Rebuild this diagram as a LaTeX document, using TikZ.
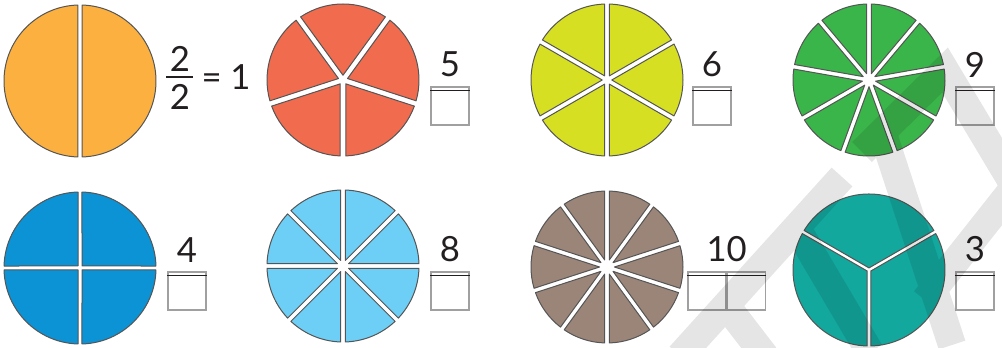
\documentclass[tikz,border=0pt]{standalone}
\usepackage{fontspec}
\setmainfont{Lato}
\usetikzlibrary{positioning}

\definecolor{edgegray}{HTML}{555555}
\definecolor{boxgray}{HTML}{A0A0A0}
\definecolor{inkdark}{HTML}{231F20}
\definecolor{pieorange}{HTML}{FBB040}
\definecolor{piered}{HTML}{F16B4F}
\definecolor{pieyellow}{HTML}{D7DF23}
\definecolor{piegreen}{HTML}{3AB54A}
\definecolor{pieblue}{HTML}{0B93D5}
\definecolor{pielight}{HTML}{6DCFF6}
\definecolor{piebrown}{HTML}{9B8579}
\definecolor{pieteal}{HTML}{13A89E}

\tikzset{every picture/.style={line width=0.75pt}}
\tikzset{
  sector/.style={draw=edgegray, line width=0.75pt, line join=round},
  blank/.style={draw=boxgray, line width=1.1pt, minimum size=28.5pt, inner sep=0pt},
  fracbar/.style={draw=inkdark, line width=1.1pt},
  numtext/.style={inner sep=0pt, text=inkdark, font=\fontsize{26}{30}\selectfont},
  stripe/.style={line width=21pt, line cap=butt, line join=miter},
}

\newcommand{\rad}{76}
% centre, parts, first cut, colour, half gap
\newcommand{\fracpie}[5]{%
  \begin{scope}[shift={#1}, yscale=-1]
    \pgfmathsetmacro{\angH}{180/#2}
    \pgfmathsetmacro{\tipd}{#5/sin(\angH)}
    \pgfmathsetmacro{\angD}{asin(#5/\rad)}
    \foreach \k in {1,...,#2}{
      \pgfmathsetmacro{\angA}{#3+(\k-1)*360/#2}
      \pgfmathsetmacro{\angB}{\angA+360/#2}
      \draw[sector, fill=#4] (\angA+\angH:\tipd) -- (\angA+\angD:\rad)
        arc[start angle=\angA+\angD, end angle=\angB-\angD, radius=\rad] -- cycle;
    }
  \end{scope}}

\begin{document}
\begin{tikzpicture}[x=0.75pt,y=0.75pt,yscale=-1,xscale=1]
  \useasboundingbox (0,0) rectangle (1002,348);

  % pies
  \fracpie{(80,81)}{2}{90}{pieorange}{2.2}
  \fracpie{(343,80)}{5}{270}{piered}{2.8}
  \fracpie{(607,80)}{6}{90}{pieyellow}{2.4}
  \fracpie{(869,80)}{9}{90}{piegreen}{2.3}
  \fracpie{(80,268)}{4}{0}{pieblue}{2.0}
  \fracpie{(343,266)}{8}{0}{pielight}{2.3}
  \fracpie{(607,267)}{10}{90}{piebrown}{2.3}
  \fracpie{(869,270)}{3}{270}{pieteal}{1.8}

  % 2/2 = 1
  \node[numtext, anchor=base] (num2) at (180,72) {2};
  \coordinate (bar2l) at (166,77);
  \coordinate (bar2r) at (193,77);
  \draw[fracbar] (bar2l) -- (bar2r);
  \node[numtext, anchor=base] (den2) at (180,110) {2};
  \node[numtext, anchor=west] (eqone) at (201,77) {= 1};

  % top row
  \node[blank] (box5) at (450,106) {};
  \draw[fracbar] ([yshift=3pt]box5.north west) -- ([yshift=3pt]box5.north east);
  \node[numtext, above=6.5pt of box5] (num5) {5};

  \node[blank] (box6) at (712,106) {};
  \draw[fracbar] ([yshift=3pt]box6.north west) -- ([yshift=3pt]box6.north east);
  \node[numtext, above=6.5pt of box6] (num6) {6};

  \node[blank] (box9) at (975,106) {};
  \draw[fracbar] ([yshift=3pt]box9.north west) -- ([yshift=3pt]box9.north east);
  \node[numtext, above=6.5pt of box9] (num9) {9};

  % bottom row
  \node[blank] (box4) at (187,291) {};
  \draw[fracbar] ([yshift=3pt]box4.north west) -- ([yshift=3pt]box4.north east);
  \node[numtext, above=6.5pt of box4] (num4) {4};

  \node[blank] (box8) at (450,291) {};
  \draw[fracbar] ([yshift=3pt]box8.north west) -- ([yshift=3pt]box8.north east);
  \node[numtext, above=6.5pt of box8] (num8) {8};

  \node[blank] (box10a) at (707,291) {};
  \node[blank, right=0pt of box10a] (box10b) {};
  \draw[fracbar] ([yshift=3pt]box10a.north west) -- ([yshift=3pt]box10b.north east);
  \node[numtext, above=6.5pt of box10a.north east] (num10) {10};

  \node[blank] (box3) at (975,291) {};
  \draw[fracbar] ([yshift=3pt]box3.north west) -- ([yshift=3pt]box3.north east);
  \node[numtext, above=6.5pt of box3] (num3) {3};

  % faint watermark stripes
  \begin{scope}[transparency group, opacity=0.1]
    \draw[stripe] (680,356) -- (842,177);
    \draw[stripe] (862,152) -- (945,70) -- (1012,182);
    \draw[stripe] (885,140) -- (952,345);
    \draw[stripe] (1012,190) -- (925,300);
    \draw[stripe] (795,225) -- (870,352);
    \draw[stripe] (722,300) -- (765,356);
  \end{scope}
\end{tikzpicture}
\end{document}
